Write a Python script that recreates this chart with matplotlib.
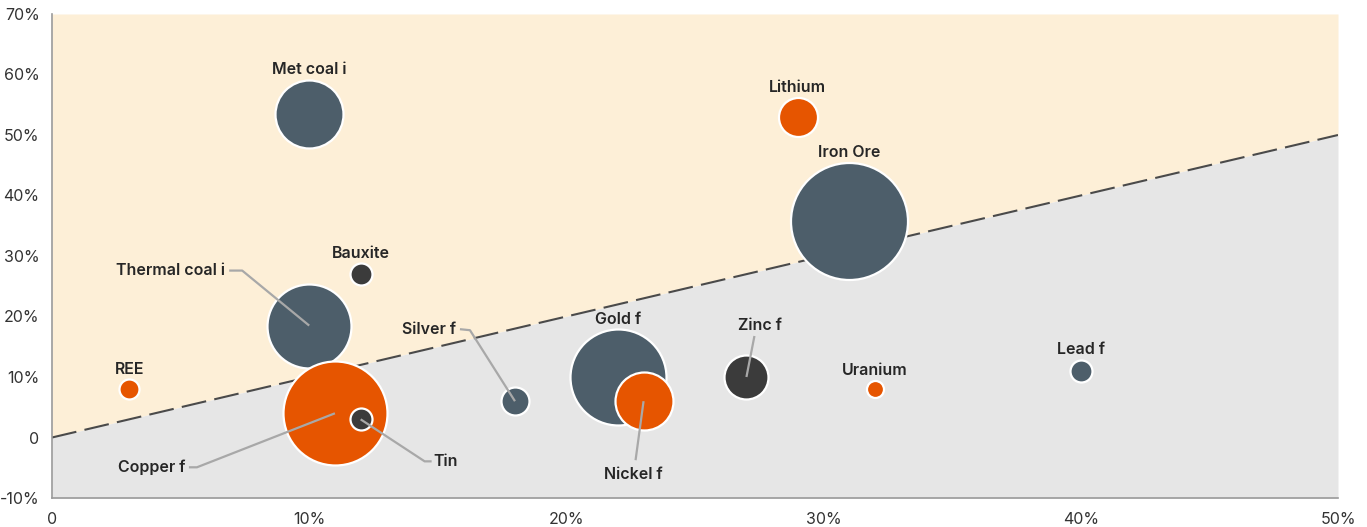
import matplotlib
matplotlib.use("Agg")
import matplotlib.pyplot as plt
import numpy as np

# ---- data ----
names = ["Met coal i", "Lithium", "Iron Ore", "Bauxite", "Thermal coal i", "REE",
         "Copper f", "Tin", "Silver f", "Gold f", "Nickel f", "Zinc f", "Uranium", "Lead f"]
x_vals = [10.0, 29.0, 31.0, 12.0, 10.0, 3.0, 11.0, 12.0, 18.0, 22.0, 23.0, 27.0, 32.0, 40.0]
y_vals = [53.5, 53.0, 35.8, 27.0, 18.5, 8.0, 4.0, 3.0, 6.0, 10.0, 6.0, 10.0, 8.0, 11.0]
bubble_size = [68, 39, 117, 22, 84, 20, 104, 22, 28, 96, 58, 44, 17, 22]
groups = ["slate", "orange", "slate", "dark", "slate", "orange",
          "orange", "dark", "slate", "slate", "orange", "dark", "orange", "slate"]
x_ticks = [0, 10, 20, 30, 40, 50]
x_tick_labels = ["0", "10%", "20%", "30%", "40%", "50%"]
y_ticks = [-10, 0, 10, 20, 30, 40, 50, 60, 70]
y_tick_labels = ["-10%", "0", "10%", "20%", "30%", "40%", "50%", "60%", "70%"]

# ---- style ----
colors = {"slate": "#4d5e6a", "orange": "#e65500", "dark": "#3b3b3b"}
plt.rcParams["font.family"] = ["Inter", "DejaVu Sans"]
DPI = 100
fig = plt.figure(figsize=(13.67, 5.27), dpi=DPI)
ax = fig.add_axes([52 / 1367, 1 - 498 / 527, (1338 - 52) / 1367, (498 - 14) / 527])
ax.set_xlim(0, 50)
ax.set_ylim(-10, 70)

# background regions split by y = x
xs = np.array([0, 50])
ax.fill_between(xs, xs, 70, color="#fdefd7", lw=0, zorder=0)
ax.fill_between(xs, -10, xs, color="#e6e6e6", lw=0, zorder=0)
ax.plot(xs, xs, color="#4a4a4a", lw=1.5, dashes=(12, 4), zorder=1)

for sp in ["top", "right"]:
    ax.spines[sp].set_visible(False)
for sp in ["left", "bottom"]:
    ax.spines[sp].set_color("#9a9a9a")
    ax.spines[sp].set_linewidth(1.2)
ax.set_xticks(x_ticks, x_tick_labels)
ax.set_yticks(y_ticks, y_tick_labels)
ax.tick_params(length=0, labelsize=11.5, colors="#333333", pad=9)
ax.tick_params(axis="x", pad=10)

px2pt = 72 / DPI
z = 3
for n, x, y, d, g in zip(names, x_vals, y_vals, bubble_size, groups):
    ax.scatter([x], [y], s=(d * px2pt) ** 2, color=colors[g], edgecolor="white",
               linewidth=1.6, zorder=z)
    z += 0.01

# leader-line layout (pixel offsets from bubble center): (elbow, stub end, label anchor, ha, va)
leaders = {
    "Thermal coal i": ((-67, 55), (-80, 55), (-84, 55), "right", "center"),
    "Copper f": ((-138, -54), (-146, -54), (-150, -54), "right", "center"),
    "Tin": ((64, -42), (71, -42), (73, -42), "left", "center"),
    "Silver f": ((-45, 71), (-55, 72), (-59, 72), "right", "center"),
    "Zinc f": ((8, 41), (8, 41), (13, 52), "center", "center"),
    "Nickel f": ((-8, -59), (-8, -59), (-10, -73), "center", "center"),
}
fig.canvas.draw()
lab_kw = dict(fontsize=11.5, fontweight="semibold", color="#262626", zorder=10)
for n, x, y, d in zip(names, x_vals, y_vals, bubble_size):
    cx, cy = ax.transData.transform((x, y))
    if n in leaders:
        (ex, ey), (sx, sy), (lx, ly), ha, va = leaders[n]
        pts = np.array([[cx, cy], [cx + ex, cy + ey], [cx + sx, cy + sy]])
        ax.plot(pts[:, 0], pts[:, 1], transform=None, color="#a8a8a8", lw=1.6,
                solid_capstyle="butt", zorder=9)
        ax.text(cx + lx, cy + ly, n, transform=None, ha=ha, va=va, **lab_kw)
    else:
        ax.text(cx, cy + d / 2 + 10, n, transform=None, ha="center", va="center", **lab_kw)

fig.savefig("out.png", dpi=DPI)
